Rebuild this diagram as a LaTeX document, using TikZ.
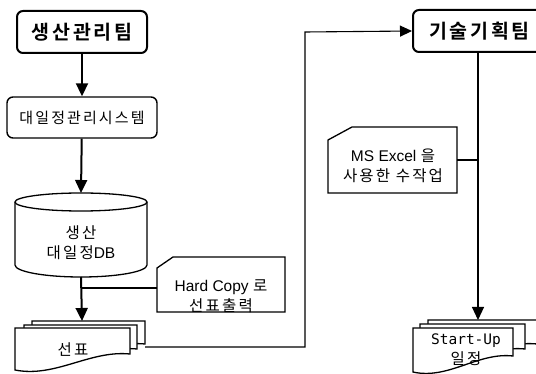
\documentclass[tikz,border=0pt]{standalone}
\usepackage{fontspec}
\setmainfont{Liberation Sans}
\newfontfamily\krsp{Noto Sans CJK KR}[LetterSpace=14,BoldFont={Noto Sans CJK KR Bold}]
\newfontfamily\monofam{DejaVu Sans Mono}
\newcommand{\ks}[1]{{\krsp #1}}
\usetikzlibrary{arrows.meta}
\tikzset{
  team/.style={draw,line width=2pt,rounded corners=6pt,minimum width=130pt,minimum height=42pt,font=\krsp\fontsize{19.5}{21}\selectfont\bfseries,inner sep=0pt},
  sysbox/.style={draw,line width=1.4pt,rounded corners=6pt,minimum width=150pt,minimum height=41pt,font=\krsp\fontsize{15}{17}\selectfont,inner sep=0pt},
  txt/.style={align=center,inner sep=0pt,font=\fontsize{15.5}{20}\selectfont},
  shapeline/.style={draw,line width=1.3pt,fill=white,line join=miter},
  conthick/.style={line width=2pt},
  conthin/.style={line width=1.1pt},
  tip/.style={-{Triangle[width=12pt,length=13pt]}},
}
\newcommand{\docpage}[4]{% L, T, right, leftbottom
  \path[shapeline] (#1,#2) -- (#3,#2) -- (#3,#4-16) .. controls ({#3-0.35*(#3-#1)},#4-20) and ({#1+0.35*(#3-#1)},#4+8) .. (#1,#4) -- cycle;
}
\begin{document}
\begin{tikzpicture}[x=1pt,y=-1pt]
\useasboundingbox (0,0) rectangle (536,374);
\clip (0,0) rectangle (536,374);
% left column
\node[team] (t1) at (82,32) {생산관리팀};
\node[sysbox] (sys) at (82,117.5) {대일정관리시스템};
% cylinder
\path[shapeline] (15,202) -- (15,265) arc[start angle=180,end angle=360,x radius=66,y radius=-12] -- (147,202) arc[start angle=0,end angle=180,x radius=66,y radius=-9] -- cycle;
\draw[line width=1.3pt] (15,202) arc[start angle=180,end angle=360,x radius=66,y radius=-9];
\coordinate (dbtop) at (81,193);
\coordinate (dbbot) at (81,277);
\node[txt] (db) at (81,243) {\ks{생산}\\\ks{대일정}DB};
% note 1
\path[shapeline] (157,268) -- (173,257) -- (285,257) -- (285,312) -- (157,312) -- cycle;
\node[txt] (n1) at (221,296) {Hard Copy \ks{로}\\\ks{선표출력}};
\coordinate (n1l) at (157,288);
% doc 선표
\docpage{32}{321}{145}{360}
\docpage{24}{325}{137}{365}
\docpage{15}{328}{130}{370}
\node[txt] (sp) at (73,350) {\ks{선표}};
\coordinate (sptop) at (82,321);
\coordinate (spr) at (145,347);
\coordinate (j1) at (82,288);
% right column
\node[team,minimum width=133pt] (t2) at (479.5,31) {기술기획팀};
\path[shapeline] (328,140) -- (352,127) -- (457,127) -- (457,193) -- (328,193) -- cycle;
\node[txt] (n2) at (393,166) {MS Excel \ks{을}\\\ks{사용한 수작업}};
\coordinate (n2r) at (457,160);
\coordinate (j2) at (478,160);
\docpage{428}{320}{537}{360}
\docpage{420}{324}{525}{365}
\docpage{413}{328}{513}{372}
\node[txt] (su) at (466,350) {{\monofam\fontsize{14.5}{20}\selectfont Start-Up}\\\ks{일정}};
\coordinate (sutop) at (478,320);
% connectors
\draw[conthick,tip] (t1) -- (sys);
\draw[conthick,tip] (sys) -- (dbtop);
\draw[conthick,tip] (dbbot) -- (sptop);
\draw[conthin] (j1) -- (n1l);
\draw[conthin,-{Triangle[width=11pt,length=12pt]}] (spr) -- (305,347) -- (305,32) -- (t2.west);
\draw[conthin,tip] (t2.south -| sutop) -- (sutop);
\draw[conthin] (n2r) -- (j2);
\end{tikzpicture}
\end{document}
